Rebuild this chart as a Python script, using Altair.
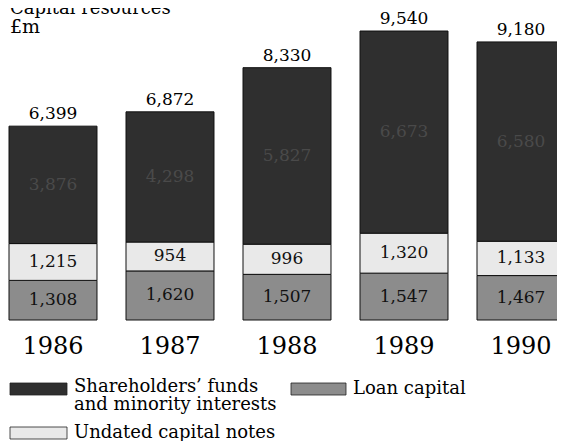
import altair as alt
import pandas as pd

years = ["1986", "1987", "1988", "1989", "1990"]
loan_capital = [1308, 1620, 1507, 1547, 1467]
undated_notes = [1215, 954, 996, 1320, 1133]
shareholders = [3876, 4298, 5827, 6673, 6580]
totals = [6399, 6872, 8330, 9540, 9180]

S_NAME = "Shareholders\u2019 funds and minority interests"
L_NAME = "Loan capital"
U_NAME = "Undated capital notes"
series_order = [S_NAME, L_NAME, U_NAME]
series_colors = ["#2f2f2f", "#8c8c8c", "#e9e9e9"]

rows = []
for i, yr in enumerate(years):
    base = 0
    for name, vals, lc in [(L_NAME, loan_capital, "#111111"),
                           (U_NAME, undated_notes, "#111111"),
                           (S_NAME, shareholders, "#4a4a4a")]:
        v = vals[i]
        rows.append({"year": yr, "series": name, "value": v, "start": base,
                     "end": base + v, "mid": base + v / 2, "lc": lc})
        base += v
df = pd.DataFrame(rows)
tot_df = pd.DataFrame({"year": years, "total": totals})

# legend layout (pixel positions inside the plot area)
legend_box = pd.DataFrame({
    "series": [S_NAME, L_NAME, U_NAME],
    "x0": [1, 282, 1], "x1": [58, 337, 58],
    "y0": [375, 375, 419], "y1": [387, 387, 431],
})
legend_txt = pd.DataFrame({
    "t": ["Shareholders\u2019 funds", "and minority interests", "Loan capital",
          "Undated capital notes"],
    "lx": [65, 65, 344, 65],
    "ly": [384, 402, 386, 430],
})

FONT = "DejaVu Serif"
color_scale = alt.Scale(domain=series_order, range=series_colors)

x_enc = alt.X("year:N", sort=years,
              scale=alt.Scale(range=[0, 556], paddingInner=0.248, paddingOuter=0),
              axis=alt.Axis(title=None, domain=False, ticks=False, tickSize=0,
                            labelFont=FONT, labelFontSize=24, labelColor="#000",
                            labelAngle=0, labelBaseline="alphabetic", labelPadding=33))
y_scale = alt.Scale(domain=[0, 10300])

bars = alt.Chart(df).mark_bar(stroke="#111", strokeWidth=1, opacity=1).encode(
    x=x_enc,
    y=alt.Y("start:Q", scale=y_scale, axis=None),
    y2="end:Q",
    color=alt.Color("series:N", scale=color_scale, legend=None),
)

seg_text = alt.Chart(df).mark_text(font=FONT, fontSize=17, baseline="middle").encode(
    x=alt.X("year:N", sort=years),
    y=alt.Y("mid:Q", scale=y_scale),
    text=alt.Text("value:Q", format=",d"),
    color=alt.Color("lc:N", scale=None),
)

tot_text = alt.Chart(tot_df).mark_text(font=FONT, fontSize=17, baseline="alphabetic", dy=-7,
                                       color="#000").encode(
    x=alt.X("year:N", sort=years),
    y=alt.Y("total:Q", scale=y_scale),
    text=alt.Text("total:Q", format=",d"),
)

leg_rect = alt.Chart(legend_box).mark_rect(stroke="#222", strokeWidth=0.8, opacity=1).encode(
    x=alt.X("x0:Q", scale=None), x2="x1:Q",
    y=alt.Y("y0:Q", scale=None), y2="y1:Q",
    color=alt.Color("series:N", scale=color_scale, legend=None),
)

leg_text = alt.Chart(legend_txt).mark_text(font=FONT, fontSize=18, align="left",
                                           baseline="alphabetic", color="#000").encode(
    x=alt.X("lx:Q", scale=None), y=alt.Y("ly:Q", scale=None), text="t:N",
)

title1 = alt.Chart(alt.Data(values=[{"t": "Capital resources"}])).mark_text(
    font=FONT, fontSize=18, align="left", baseline="alphabetic", color="#000"
).encode(x=alt.value(1), y=alt.value(6), text="t:N")

title2 = alt.Chart(alt.Data(values=[{"t": "\u00a3m"}])).mark_text(
    font=FONT, fontSize=19, align="left", baseline="alphabetic", color="#000"
).encode(x=alt.value(1), y=alt.value(25), text="t:N")

chart = alt.layer(bars, seg_text, tot_text, leg_rect, leg_text, title1, title2).properties(
    width=548, height=312,
    padding={"left": 1, "top": 0, "right": 0, "bottom": 121},
    autosize=alt.AutoSizeParams(type="none"),
).configure_view(stroke=None)

chart.save("out.html", embed_options={"renderer": "svg", "actions": False})
